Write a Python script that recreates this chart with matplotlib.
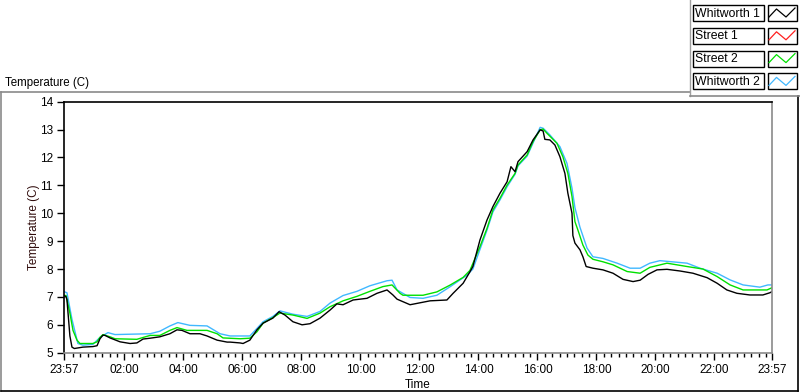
import matplotlib.pyplot as plt
from matplotlib.patches import Rectangle

plt.rcParams['font.family'] = ['Liberation Sans', 'DejaVu Sans']

names = ['Whitworth 1', 'Street 1', 'Street 2', 'Whitworth 2']
colors = ['#000000', '#ff2020', '#00e000', '#40b8ff']

# time in hours after midnight (23:57 the evening before is -0.05)
w1_t = [-0.05, 0.02, 0.05, 0.15, 0.22, 0.30, 0.59, 0.93, 1.07, 1.17, 1.27, 1.34, 1.51,
        1.85, 2.19, 2.42, 2.63, 2.87, 3.20, 3.54, 3.78, 3.95, 4.22, 4.56, 4.80, 5.14,
        5.48, 5.58, 5.92, 6.02, 6.25, 6.49, 6.70, 7.03, 7.24, 7.44, 7.71, 8.02, 8.29,
        8.63, 8.97, 9.20, 9.41, 9.75, 10.22, 10.56, 10.90, 11.10, 11.24, 11.68, 11.78,
        12.36, 12.93, 13.14, 13.48, 13.71, 13.81, 14.05, 14.29, 14.49, 14.73, 14.97,
        15.10, 15.24, 15.34, 15.65, 15.85, 16.09, 16.19, 16.25, 16.42, 16.59, 16.76,
        16.93, 17.03, 17.17, 17.20, 17.27, 17.44, 17.54, 17.65, 17.88, 18.22, 18.56,
        18.90, 19.24, 19.48, 19.75, 20.05, 20.39, 20.83, 21.27, 21.75, 22.09, 22.42,
        22.76, 23.20, 23.64, 23.88, 23.95]
w1_v = [7.05, 7.0, 6.9, 5.6, 5.2, 5.15, 5.2, 5.22, 5.25, 5.5, 5.63, 5.62, 5.53,
        5.39, 5.33, 5.35, 5.49, 5.52, 5.57, 5.68, 5.82, 5.8, 5.68, 5.68, 5.6, 5.45,
        5.38, 5.38, 5.35, 5.33, 5.45, 5.82, 6.06, 6.24, 6.47, 6.35, 6.11, 6.0, 6.04,
        6.24, 6.53, 6.75, 6.72, 6.89, 6.95, 7.13, 7.25, 7.07, 6.92, 6.72, 6.74,
        6.86, 6.89, 7.13, 7.49, 7.9, 8.09, 9.04, 9.76, 10.24, 10.72, 11.13,
        11.67, 11.49, 11.85, 12.21, 12.63, 12.99, 12.95, 12.65, 12.63, 12.45, 12.03,
        11.43, 10.72, 10.0, 9.2, 8.93, 8.69, 8.44, 8.09, 8.03, 7.97, 7.85,
        7.63, 7.55, 7.6, 7.81, 7.97, 7.99, 7.93, 7.85, 7.69, 7.49, 7.25,
        7.13, 7.07, 7.07, 7.15, 7.19]

# Street 1 shows in the legend but draws nothing in the picture
s1_t = []
s1_v = []

s2_t = [-0.05, 0.02, 0.15, 0.255, 0.39, 0.49, 0.93, 1.07, 1.17, 1.27, 1.51, 1.68, 2.42,
        2.87, 3.20, 3.54, 3.78, 4.12, 4.80, 5.14, 5.34, 5.92, 6.25, 6.49, 6.70, 7.03,
        7.27, 7.71, 8.19, 8.63, 8.97, 9.41, 9.88, 10.32, 10.76, 11.07, 11.34, 11.44,
        12.12, 12.59, 13.03, 13.48, 13.71, 14.05, 14.29, 14.49, 14.73, 14.97, 15.24,
        15.34, 15.65, 15.85, 16.09, 16.19, 16.32, 16.66, 16.86, 17.03, 17.17, 17.27,
        17.37, 17.54, 17.71, 17.88, 18.22, 18.56, 19.04, 19.48, 19.81, 20.39, 21.07,
        21.61, 22.09, 22.53, 22.97, 23.78, 23.95]
s2_v = [7.05, 7.05, 6.42, 5.8, 5.45, 5.33, 5.33, 5.39, 5.55, 5.65, 5.57, 5.5, 5.48,
        5.62, 5.62, 5.8, 5.9, 5.8, 5.8, 5.68, 5.53, 5.5, 5.52, 5.75, 6.06, 6.26,
        6.42, 6.35, 6.23, 6.42, 6.65, 6.86, 7.02, 7.2, 7.37, 7.43, 7.13, 7.06,
        7.06, 7.18, 7.42, 7.7, 7.95, 8.8, 9.46, 10.12, 10.54, 11.01, 11.43,
        11.73, 12.09, 12.57, 12.99, 13.02, 12.87, 12.51, 12.03, 11.43, 10.6, 9.7,
        9.4, 8.86, 8.5, 8.35, 8.26, 8.15, 7.91, 7.85, 8.06, 8.21, 8.09,
        8.0, 7.73, 7.43, 7.25, 7.25, 7.33]

w2_t = [-0.05, 0.05, 0.22, 0.42, 0.59, 0.93, 1.17, 1.44, 1.68, 2.87, 3.20, 3.54, 3.81,
        4.22, 4.80, 5.24, 5.58, 6.25, 6.49, 6.70, 7.03, 7.27, 7.71, 8.19, 8.63, 8.97,
        9.41, 9.88, 10.32, 10.90, 11.07, 11.24, 11.68, 12.12, 12.59, 13.03, 13.61,
        13.81, 14.05, 14.29, 14.49, 14.73, 14.97, 15.24, 15.34, 15.65, 15.85, 16.09,
        16.19, 16.42, 16.76, 17.00, 17.17, 17.27, 17.44, 17.68, 17.88, 18.22, 18.70,
        19.14, 19.48, 19.81, 20.15, 21.07, 21.51, 22.09, 22.53, 22.97, 23.54, 23.81,
        23.95]
w2_v = [7.19, 7.15, 6.2, 5.33, 5.27, 5.3, 5.55, 5.72, 5.65, 5.68, 5.77, 5.96, 6.08,
        5.98, 5.96, 5.68, 5.6, 5.6, 5.87, 6.11, 6.3, 6.5, 6.38, 6.3, 6.48, 6.78,
        7.05, 7.2, 7.4, 7.58, 7.6, 7.25, 6.98, 6.95, 7.06, 7.36, 7.78,
        8.0, 8.7, 9.4, 10.05, 10.48, 10.95, 11.4, 11.7, 12.05, 12.52, 13.08,
        13.05, 12.81, 12.39, 11.79, 10.9, 10.2, 9.5, 8.75, 8.44, 8.38, 8.21,
        8.03, 8.03, 8.21, 8.3, 8.21, 8.03, 7.85, 7.61, 7.43, 7.35, 7.43,
        7.43]

x_ticks = [-0.05, 2, 4, 6, 8, 10, 12, 14, 16, 18, 20, 22, 23.95]
x_labels = ['23:57', '02:00', '04:00', '06:00', '08:00', '10:00', '12:00',
            '14:00', '16:00', '18:00', '20:00', '22:00', '23:57']
x_minor = [q / 4 for q in range(0, 96) if q % 8 != 0]
y_ticks = [5, 6, 7, 8, 9, 10, 11, 12, 13, 14]

fig = plt.figure(figsize=(8, 3.92), dpi=100)

# background frame, caption and legend drawn in pixel coordinates
ov = fig.add_axes([0, 0, 1, 1], zorder=-1)
ov.set_xlim(0, 800)
ov.set_ylim(392, 0)
ov.axis('off')
ov.plot([0.5, 690], [91.5, 91.5], color='#8a8a8a', lw=1.2)
ov.plot([0.5, 0.5], [91.5, 391], color='#8a8a8a', lw=1.2)
ov.plot([0.5, 798], [390.5, 390.5], color='#000000', lw=1.2)
ov.plot([797.5, 797.5], [95.5, 391], color='#000000', lw=1.2)
ov.plot([690, 690], [0, 95.5], color='#a0a0a0', lw=1)
ov.plot([690, 800], [95.5, 95.5], color='#8a8a8a', lw=1.2)
ov.text(5, 82.5, 'Temperature (C)', fontsize=8.3, va='center', ha='left')

for i, (name, col) in enumerate(zip(names, colors)):
    top = 5 + i * 22.8
    ov.add_patch(Rectangle((693, top), 71, 16, fill=False, ec='black', lw=1))
    ov.add_patch(Rectangle((767.5, top), 29.5, 16, fill=False, ec='black', lw=1))
    ov.text(695, top + 8.5, name, fontsize=8.8, va='center', ha='left')
    ov.plot([769, 776.5, 786, 795], [top + 12, top + 4, top + 12, top + 3],
            color=col, lw=0.9)

ax = fig.add_axes([64 / 800, (392 - 352.7) / 392, 708 / 800, 251 / 392])
ax.plot(w2_t, w2_v, color=colors[3], lw=1.0, label=names[3])
ax.plot(s1_t, s1_v, color=colors[1], lw=1.0, label=names[1])
ax.plot(s2_t, s2_v, color=colors[2], lw=1.0, label=names[2])
ax.plot(w1_t, w1_v, color=colors[0], lw=1.0, label=names[0])

ax.set_xlim(-0.05, 23.95)
ax.set_ylim(5, 14)
ax.set_xticks(x_ticks)
ax.set_xticklabels(x_labels)
ax.set_xticks(x_minor, minor=True)
ax.set_yticks(y_ticks)
ax.tick_params(axis='both', which='major', direction='out', length=5, width=1,
               labelsize=8.5, pad=3)
ax.tick_params(axis='x', which='minor', direction='out', length=3, width=1)
ax.set_xlabel('Time', fontsize=8.5, labelpad=2)
ax.set_ylabel('Temperature (C)', fontsize=8.5, color='#300c0c', labelpad=0)

ax.spines['top'].set_color('black')
ax.spines['left'].set_color('black')
ax.spines['right'].set_color('#8a8a8a')
ax.spines['bottom'].set_color('#8a8a8a')
for s in ax.spines.values():
    s.set_linewidth(1.2)

fig.savefig('out.png', dpi=100)
